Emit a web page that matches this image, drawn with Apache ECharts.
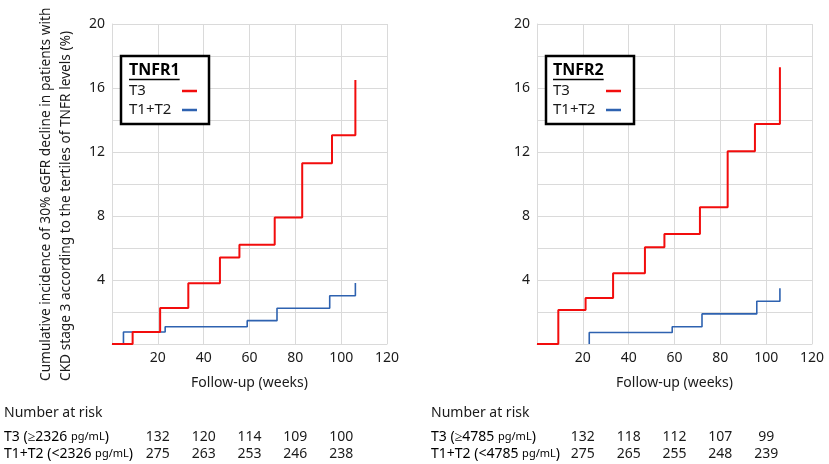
<!DOCTYPE html>
<html>
<head>
<meta charset="utf-8">
<title>TNFR1 / TNFR2 cumulative incidence</title>
<script src="https://cdn.jsdelivr.net/npm/echarts@6/dist/echarts.min.js"></script>
<style>
html,body{margin:0;padding:0;background:#fff;}
#main{width:829px;height:464px;}
</style>
</head>
<body>
<div id="main"></div>
<script>
// step curves: [week, cumulative incidence %]
var tnfr1T3 = [[0,0],[9,0.75],[21,2.25],[33.3,3.8],[47.1,5.4],[55.6,6.2],[71,7.9],[83,11.3],[96,13.05],[106.2,16.5]];
var tnfr1T12 = [[0,0],[5,0.75],[23.2,1.08],[59,1.46],[72,2.23],[95,3.02],[106.2,3.82]];
var tnfr2T3 = [[0,0],[9.3,2.13],[21.2,2.88],[33.2,4.42],[47.1,6.04],[55.6,6.88],[71.1,8.55],[83.2,12.05],[95.1,13.75],[106,17.3]];
var tnfr2T12 = [[22.8,0],[22.8,0.72],[59,1.08],[72,1.88],[95.9,2.67],[106,3.48]];

// number at risk table
var riskWeeks = [20, 40, 60, 80, 100];
var cutoffs = [2326, 4785];
var risk1T3 = [132, 120, 114, 109, 100];
var risk1T12 = [275, 263, 253, 246, 238];
var risk2T3 = [132, 118, 112, 107, 99];
var risk2T12 = [275, 265, 255, 248, 239];

var panelNames = ['TNFR1', 'TNFR2'];
var yTitle = 'Cumulative incidence of 30% eGFR decline in patients with\nCKD stage 3 according to the tertiles of TNFR levels (%)';

var RED = '#f20d0d', BLUE = '#2e62b0', TXT = '#1a1a1a', GRID = '#dadada';
var FONT = 'Noto Sans';

var chart = echarts.init(document.getElementById('main'));

function xAx(i) {
    return {
        gridIndex: i, type: 'value', min: 0, max: 120, interval: 20,
        name: 'Follow-up (weeks)', nameLocation: 'middle', nameGap: 32,
        nameTextStyle: {fontFamily: FONT, fontSize: 14, color: TXT},
        axisLine: {lineStyle: {color: GRID}}, axisTick: {show: false},
        axisLabel: {
            margin: 7, fontFamily: FONT, fontSize: 14, color: TXT,
            formatter: function (v) { return v === 0 ? '' : v; }
        },
        splitLine: {lineStyle: {color: GRID}}
    };
}
function yAx(i) {
    return {
        gridIndex: i, type: 'value', min: 0, max: 20, interval: 2,
        axisLine: {show: true, lineStyle: {color: GRID}}, axisTick: {show: false},
        axisLabel: {
            margin: 7, fontFamily: FONT, fontSize: 14, color: TXT,
            formatter: function (v) { return (v > 0 && v % 4 === 0) ? v : ''; }
        },
        splitLine: {lineStyle: {color: GRID}}
    };
}
function stepLine(i, name, data, color, w) {
    return {
        name: name, type: 'line', step: 'end', xAxisIndex: i, yAxisIndex: i,
        data: data, showSymbol: false, animation: false,
        lineStyle: {color: color, width: w}, itemStyle: {color: color}
    };
}

chart.setOption({
    backgroundColor: '#fff',
    animation: false,
    grid: [
        {left: 112, top: 24, width: 275, height: 320},
        {left: 537, top: 24, width: 275, height: 320}
    ],
    xAxis: [xAx(0), xAx(1)],
    yAxis: [yAx(0), yAx(1)],
    series: [
        stepLine(0, 'T1+T2', tnfr1T12, BLUE, 1.6),
        stepLine(0, 'T3', tnfr1T3, RED, 2),
        stepLine(1, 'T1+T2', tnfr2T12, BLUE, 1.6),
        stepLine(1, 'T3', tnfr2T3, RED, 2)
    ]
});

// measure text width for the underline
var cv = document.createElement('canvas').getContext('2d');
function textW(s, font) { cv.font = font; return cv.measureText(s).width; }

var els = [];

// y axis title, both lines start at the bottom
els.push({
    type: 'text', x: 56, y: 381, rotation: Math.PI / 2,
    style: {text: yTitle, fontFamily: FONT, fontSize: 13.7, lineHeight: 20, fill: TXT,
            align: 'left', verticalAlign: 'middle'}
});

// legend boxes
function legendBox(x0, name, tx, lx) {
    var titleFont = 'bold 16px "' + FONT + '"';
    var tw = textW(name, titleFont);
    return {
        type: 'group', x: x0, y: 56,
        children: [
            {type: 'rect', shape: {x: 0, y: 0, width: 88, height: 68},
             style: {fill: '#fff', stroke: '#000', lineWidth: 2.5}},
            {type: 'text', x: tx, y: 14, style: {text: name, fontFamily: FONT, fontWeight: 'bold',
             fontSize: 16, fill: '#000', verticalAlign: 'middle'}},
            {type: 'line', shape: {x1: tx, y1: 23.5, x2: tx + tw, y2: 23.5}, style: {stroke: '#000', lineWidth: 1.3}},
            {type: 'text', x: tx, y: 34.5, style: {text: 'T3', fontFamily: FONT, fontSize: 15,
             fill: TXT, verticalAlign: 'middle'}},
            {type: 'line', shape: {x1: lx, y1: 35, x2: lx + 15, y2: 35}, style: {stroke: RED, lineWidth: 2.5}},
            {type: 'text', x: tx, y: 54, style: {text: 'T1+T2', fontFamily: FONT, fontSize: 15,
             fill: TXT, verticalAlign: 'middle'}},
            {type: 'line', shape: {x1: lx, y1: 54, x2: lx + 15, y2: 54}, style: {stroke: BLUE, lineWidth: 2.5}}
        ]
    };
}
els.push(legendBox(121, panelNames[0], 8, 61));
els.push(legendBox(546, panelNames[1], 7, 60));

// number-at-risk tables, columns placed on the x axis weeks
function riskTable(i, labelX, cut, rowT3, rowT12) {
    var rich = {a: {fontFamily: FONT, fontSize: 14, color: TXT},
                b: {fontFamily: FONT, fontSize: 11, color: TXT}};
    els.push({type: 'text', x: labelX, y: 413, style: {text: 'Number at risk', fontFamily: FONT,
              fontSize: 14, fill: TXT, verticalAlign: 'middle'}});
    els.push({type: 'text', x: labelX, y: 437, style: {text: '{a|T3 (≥' + cut + ' }{b|pg/mL}{a|)}',
              rich: rich, verticalAlign: 'middle'}});
    els.push({type: 'text', x: labelX, y: 454, style: {text: '{a|T1+T2 (<' + cut + ' }{b|pg/mL}{a|)}',
              rich: rich, verticalAlign: 'middle'}});
    riskWeeks.forEach(function (w, k) {
        var px = chart.convertToPixel({xAxisIndex: i}, w);
        els.push({type: 'text', x: px, y: 437, style: {text: String(rowT3[k]), fontFamily: FONT,
                  fontSize: 14, fill: TXT, align: 'center', verticalAlign: 'middle'}});
        els.push({type: 'text', x: px, y: 454, style: {text: String(rowT12[k]), fontFamily: FONT,
                  fontSize: 14, fill: TXT, align: 'center', verticalAlign: 'middle'}});
    });
}
riskTable(0, 4, cutoffs[0], risk1T3, risk1T12);
riskTable(1, 431, cutoffs[1], risk2T3, risk2T12);

chart.setOption({graphic: els});
</script>
</body>
</html>
